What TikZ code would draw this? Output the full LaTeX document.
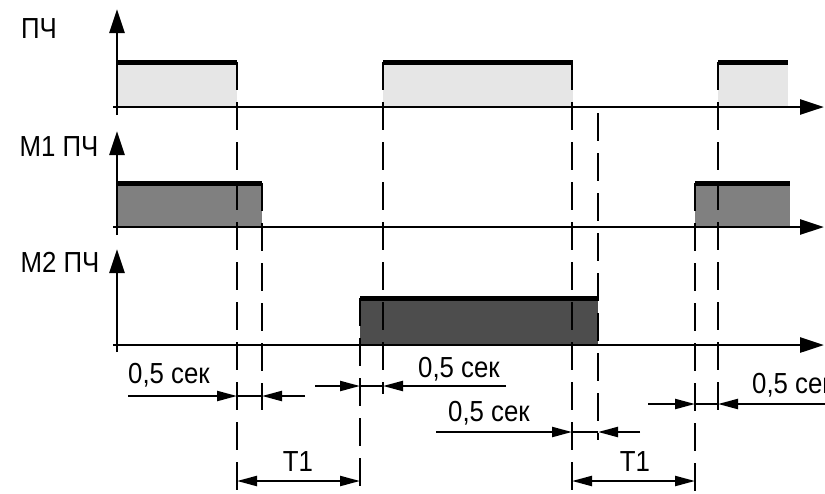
\documentclass[tikz,border=0pt]{standalone}
\usepackage{fontspec}
\setmainfont[FakeStretch=0.89]{Liberation Sans}
\usetikzlibrary{arrows.meta}
\definecolor{fillA}{HTML}{E6E6E6}
\definecolor{fillB}{HTML}{808080}
\definecolor{fillC}{HTML}{4D4D4D}
\begin{document}
\begin{tikzpicture}[x=1pt,y=-1pt,
  axisline/.style={line width=2.8pt,-{Triangle[length=24pt,width=15pt]}},
  topline/.style={line width=5pt},
  guide/.style={line width=2.5pt,dash pattern=on 28pt off 12pt},
  dim/.style={line width=2.2pt,-{Triangle[length=20pt,width=10pt]}},
  dimboth/.style={line width=2.2pt,{Triangle[length=20pt,width=10pt]}-{Triangle[length=20pt,width=10pt]}},
  thin/.style={line width=2.2pt},
  lbl/.style={font=\fontsize{29}{29}\selectfont,inner sep=0pt}]
\useasboundingbox (0,0) rectangle (825,493);
\fill[white] (0,0) rectangle (825,493);

% pulses
\fill[fillA] (117,107) rectangle (237,62);
\fill[fillA] (383,107) rectangle (573,62);
\fill[fillA] (718,107) rectangle (788,62);
\fill[fillB] (117,227) rectangle (262,183);
\fill[fillB] (695,227) rectangle (790,183);
\fill[fillC] (360,345) rectangle (598,298);
\draw[topline] (117,62) -- (237,62);
\draw[topline] (383,62) -- (573,62);
\draw[topline] (718,62) -- (788,62);
\draw[topline] (117,183) -- (262,183);
\draw[topline] (695,183) -- (790,183);
\draw[topline] (360,298) -- (598,298);

% axes
\coordinate (y1b) at (117,115); \coordinate (y1t) at (117,9);
\coordinate (x1l) at (113,107); \coordinate (x1r) at (824,107);
\coordinate (y2b) at (117,235); \coordinate (y2t) at (117,131);
\coordinate (x2l) at (113,227); \coordinate (x2r) at (824,227);
\coordinate (y3b) at (117,352); \coordinate (y3t) at (117,249);
\coordinate (x3l) at (113,345); \coordinate (x3r) at (824,345);
\draw[axisline] (y1b) -- (y1t);
\draw[axisline] (x1l) -- (x1r);
\draw[axisline] (y2b) -- (y2t);
\draw[axisline] (x2l) -- (x2r);
\draw[axisline] (y3b) -- (y3t);
\draw[axisline] (x3l) -- (x3r);

% guide lines
\coordinate (g1t) at (237,62);  \coordinate (g1b) at (237,493);
\coordinate (g2t) at (262,183); \coordinate (g2b) at (262,410);
\coordinate (g3t) at (360,298); \coordinate (g3b) at (360,493);
\coordinate (g4t) at (383,62);  \coordinate (g4b) at (383,394);
\coordinate (g5t) at (572,62);  \coordinate (g5b) at (572,493);
\coordinate (g6t) at (598,113); \coordinate (g6b) at (598,440);
\coordinate (g7t) at (695,183); \coordinate (g7b) at (695,493);
\coordinate (g8t) at (718,62);  \coordinate (g8b) at (718,413);
\foreach \g in {1,...,8} {\draw[guide] (g\g t) -- (g\g b);}

% labels
\node[lbl] (lp) at (39,29) {ПЧ};
\node[lbl] (lm1) at (59,147) {М1 ПЧ};
\node[lbl] (lm2) at (60,262) {М2 ПЧ};

% dimension row A
\coordinate (a0) at (128,396); \coordinate (a1) at (237,396);
\coordinate (a2) at (262,396); \coordinate (a3) at (305,396);
\draw[dim] (a0) -- (a1);
\draw[thin] (a1) -- (a2);
\draw[dim] (a3) -- (a2);
\node[lbl] (ta) at (169,375) {0,5 сек};

% dimension row B
\coordinate (b0) at (315,386); \coordinate (b1) at (360,386);
\coordinate (b2) at (383,386); \coordinate (b3) at (506,386);
\draw[dim] (b0) -- (b1);
\draw[thin] (b1) -- (b2);
\draw[dim] (b3) -- (b2);
\node[lbl] (tb) at (459,369) {0,5 сек};

% dimension row C
\coordinate (c0) at (436,432); \coordinate (c1) at (572,432);
\coordinate (c2) at (598,432); \coordinate (c3) at (640,432);
\draw[dim] (c0) -- (c1);
\draw[thin] (c1) -- (c2);
\draw[dim] (c3) -- (c2);
\node[lbl] (tc) at (489,413) {0,5 сек};

% dimension row D
\coordinate (d0) at (648,404); \coordinate (d1) at (695,404);
\coordinate (d2) at (718,404); \coordinate (d3) at (825,404);
\draw[dim] (d0) -- (d1);
\draw[thin] (d1) -- (d2);
\draw[dim] (d3) -- (d2);
\node[lbl,anchor=west] (td) at (752,385) {0,5 сек};

% T1
\coordinate (e0) at (237,481); \coordinate (e1) at (360,481);
\coordinate (f0) at (572,481); \coordinate (f1) at (695,481);
\draw[dimboth] (e0) -- (e1);
\draw[dimboth] (f0) -- (f1);
\node[lbl] (t1a) at (298,462) {Т1};
\node[lbl] (t1b) at (635,462) {Т1};
\end{tikzpicture}
\end{document}
